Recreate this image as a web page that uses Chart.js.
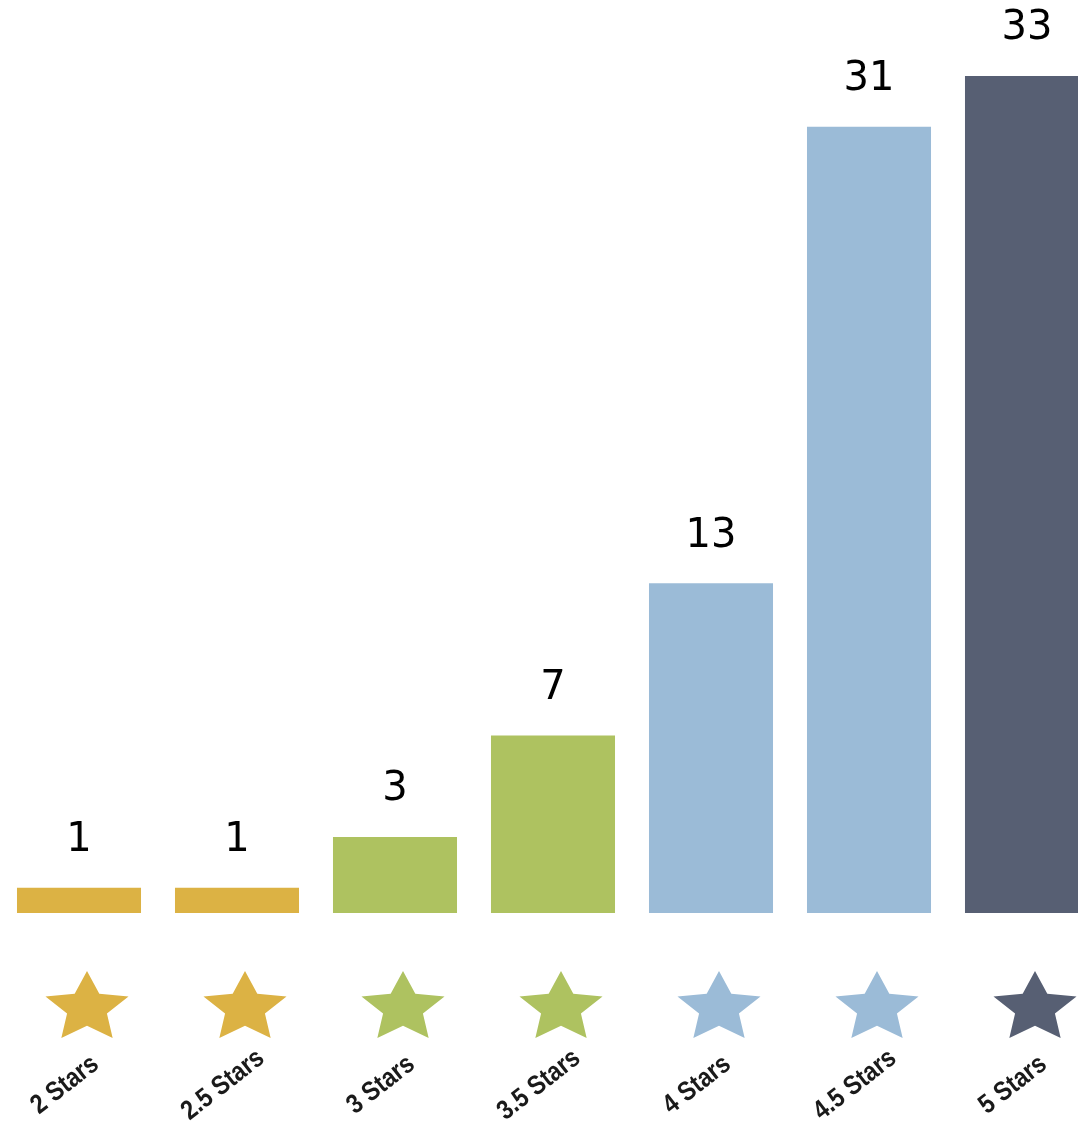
<!DOCTYPE html>
<html>
<head>
<meta charset="utf-8">
<script src="https://cdn.jsdelivr.net/npm/chart.js@4"></script>
<style>
  html, body { margin: 0; padding: 0; background: #fff; overflow: hidden; }
  #wrap { width: 1106px; height: 1132px; position: relative; }
</style>
</head>
<body>
<div id="wrap"><canvas id="ratingChart"></canvas></div>
<script>
const labels = ['2 Stars', '2.5 Stars', '3 Stars', '3.5 Stars', '4 Stars', '4.5 Stars', '5 Stars']
const counts = [1, 1, 3, 7, 13, 31, 33]
const colors = ['#DCB244', '#DCB244', '#AEC260', '#AEC260', '#9BBBD7', '#9BBBD7', '#575F73']

const drawStar = (ctx, cx, cy, r, color) => {
  ctx.save()
  ctx.translate(cx, cy)
  ctx.scale(1.18, 1)
  ctx.beginPath()
  for (let i = 0; i < 10; i++) {
    const rad = i % 2 === 0 ? r : r * 0.48
    const a = -Math.PI / 2 + i * Math.PI / 5
    const px = Math.cos(a) * rad
    const py = Math.sin(a) * rad
    if (i === 0) ctx.moveTo(px, py); else ctx.lineTo(px, py)
  }
  ctx.closePath()
  ctx.fillStyle = color
  ctx.fill()
  ctx.restore()
}

// value labels above bars + star icons and rotated names below
const decorations = {
  id: 'decorations',
  afterDatasetsDraw(chart) {
    const ctx = chart.ctx
    const meta = chart.getDatasetMeta(0)
    const base = chart.scales.y.getPixelForValue(0)
    ctx.save()
    meta.data.forEach((bar, i) => {
      ctx.fillStyle = '#000'
      ctx.font = '40px "DejaVu Sans"'
      ctx.textAlign = 'center'
      ctx.textBaseline = 'middle'
      ctx.fillText(String(counts[i]), bar.x, bar.y - 47)

      drawStar(ctx, bar.x + 8, base + 95, 37, colors[i])

      ctx.save()
      ctx.translate(bar.x - 14, base + 172)
      ctx.rotate(-38 * Math.PI / 180)
      ctx.scale(0.86, 1)
      ctx.font = 'bold 27px "Liberation Sans"'
      ctx.fillStyle = '#1a1a1a'
      ctx.textAlign = 'center'
      ctx.textBaseline = 'middle'
      ctx.fillText(labels[i], 0, 0)
      ctx.restore()
    })
    ctx.restore()
  }
}

const makeChart = () => {
  const ctx = document.getElementById('ratingChart').getContext('2d')
  return new Chart(ctx, {
    type: 'bar',
    data: {
      labels: labels,
      datasets: [{
        data: counts,
        backgroundColor: colors,
        borderWidth: 0,
        barPercentage: 0.785,
        categoryPercentage: 1.0
      }]
    },
    options: {
      responsive: true,
      maintainAspectRatio: false,
      animation: false,
      layout: { padding: { top: 0, left: 0, right: 0, bottom: 219 } },
      plugins: {
        legend: { display: false },
        tooltip: { enabled: false }
      },
      scales: {
        x: { display: false },
        y: { display: false, min: 0, max: 36 }
      }
    },
    plugins: [decorations]
  })
}

makeChart()
</script>
</body>
</html>
